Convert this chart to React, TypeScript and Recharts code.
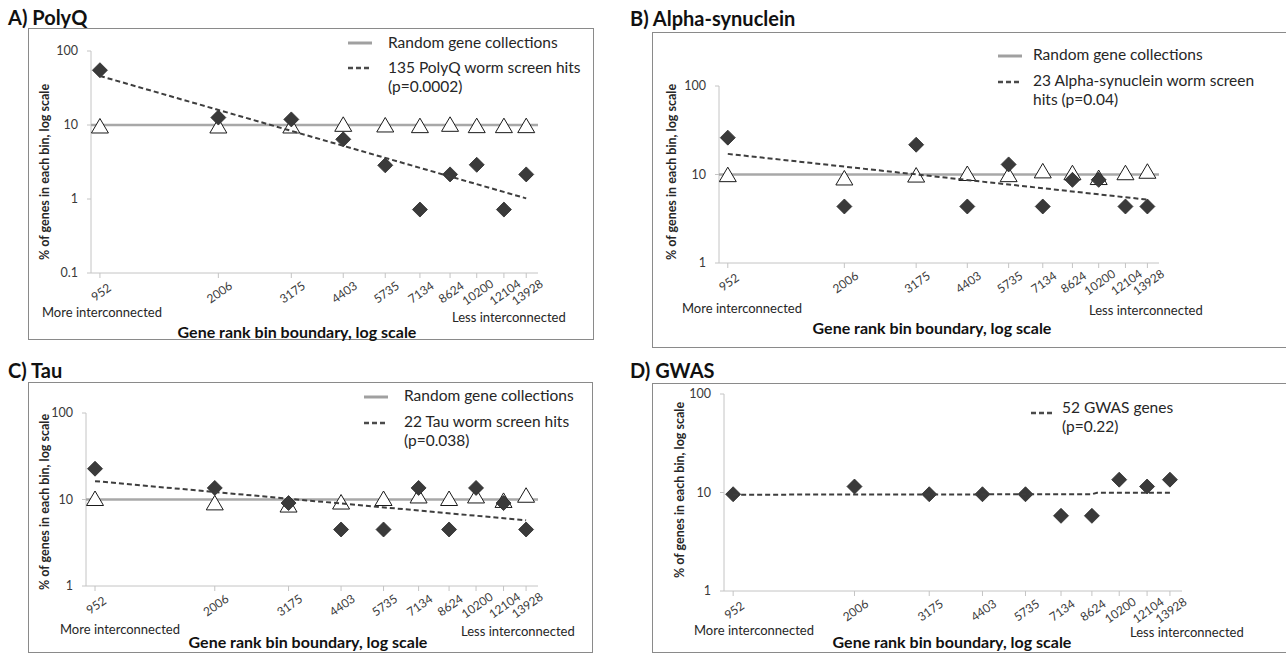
import React from 'react';
import { ScatterChart, Scatter, XAxis, YAxis } from 'recharts';

// gene rank bin boundaries (x axis, log scale)
const BINS = [952, 2006, 3175, 4403, 5735, 7134, 8624, 10200, 12104, 13928];
const X_DOMAIN = [900, 15000];
const RANDOM_LEVEL = 10;

// A) PolyQ
const POLYQ_HITS = [55, 12.6, 11.9, 6.4, 2.85, 0.72, 2.15, 2.9, 0.72, 2.15];
const POLYQ_RANDOM = [9.4, 9.4, 9.4, 9.9, 9.7, 9.5, 9.9, 9.5, 9.5, 9.5];
const POLYQ_TREND_X = [952, 13928];
const POLYQ_TREND_Y = [46, 1.02];
const POLYQ_TICKS = [0.1, 1, 10, 100];

// B) Alpha-synuclein
const ALPHA_HITS = [26.1, 4.35, 21.7, 4.35, 13.0, 4.35, 8.7, 8.7, 4.35, 4.35];
const ALPHA_RANDOM = [9.7, 8.9, 9.6, 10, 9.7, 10.7, 10.2, 9.0, 10.2, 10.6];
const ALPHA_TREND_X = [952, 13928];
const ALPHA_TREND_Y = [17.1, 5.2];

// C) Tau
const TAU_HITS = [22.7, 13.6, 9.1, 4.5, 4.5, 13.6, 4.5, 13.6, 9.1, 4.5];
const TAU_RANDOM = [10, 8.9, 8.4, 9.1, 10, 10.7, 10, 10.7, 9.5, 10.9];
const TAU_TREND_X = [952, 13928];
const TAU_TREND_Y = [16.3, 5.75];

// D) GWAS
const GWAS_HITS = [9.6, 11.5, 9.6, 9.6, 9.6, 5.8, 5.8, 13.5, 11.5, 13.5];
const GWAS_TREND_X = [952, 8624, 8900, 13928];
const GWAS_TREND_Y = [9.5, 9.6, 9.95, 9.95];

const SHORT_TICKS = [1, 10, 100];

const FONT = 'Lato, "Open Sans", sans-serif';
const YW = 40;
const XH = 40;

const pts = (xs: number[], ys: number[]) => xs.map((x, i) => ({ x, y: ys[i] }));

const Diamond = (p: any) => {
  const { cx, cy } = p;
  const r = 7.5;
  return (
    <polygon
      points={`${cx},${cy - r} ${cx + r},${cy} ${cx},${cy + r} ${cx - r},${cy}`}
      fill="#3a3a3a"
      stroke="#2a2a2a"
      strokeWidth={0.8}
    />
  );
};

const Triangle = (p: any) => {
  const { cx, cy } = p;
  return (
    <polygon
      points={`${cx},${cy - 8.5} ${cx + 8.5},${cy + 6} ${cx - 8.5},${cy + 6}`}
      fill="#ffffff"
      stroke="#1a1a1a"
      strokeWidth={1}
    />
  );
};

const Nothing = () => <g />;

// rotated bin label, centred under its tick
const XTick = (p: any) => {
  const { x, y, payload } = p;
  const cx = x + 1;
  const cy = y + 12;
  return (
    <text
      x={cx}
      y={cy}
      textAnchor="middle"
      dominantBaseline="central"
      transform={`rotate(-35, ${cx}, ${cy})`}
      fontSize={12}
      fill="#3a3a3a"
      fontFamily={FONT}
    >
      {payload.value}
    </text>
  );
};

function Txt({ x, y, size, bold, anchor, color, children }: any) {
  return (
    <div
      style={{
        position: 'absolute',
        left: x,
        top: y,
        transform: `translate(${anchor === 'middle' ? '-50%' : '0'}, -50%)`,
        fontSize: size,
        fontWeight: bold ? 700 : 400,
        color: color || '#262626',
        whiteSpace: 'nowrap',
        lineHeight: 1.15,
        fontFamily: FONT,
      }}
    >
      {children}
    </div>
  );
}

function LegendLine({ x, y, dashed }: any) {
  return (
    <svg style={{ position: 'absolute', left: x, top: y - 3 }} width={24} height={6}>
      <line
        x1={0}
        y1={3}
        x2={24}
        y2={3}
        stroke={dashed ? '#4a4a4a' : '#a0a0a0'}
        strokeWidth={dashed ? 2.5 : 3}
        strokeDasharray={dashed ? '5 3' : undefined}
      />
    </svg>
  );
}

function Panel({ cfg }: any) {
  const { title, titleX, titleY, box, plot, yTicks, hits, random, trendX, trendY, legend, yLabel, more, less, axisTitle } = cfg;
  const margin = {
    top: plot.top - box.y,
    left: plot.left - box.x - YW,
    right: box.x + box.w - plot.right,
    bottom: box.y + box.h - plot.bottom - XH,
  };
  const hitData = pts(BINS, hits);
  const trendData = pts(trendX, trendY);
  const randomData = random ? pts(BINS, random) : null;
  const randomLine = pts(X_DOMAIN, [RANDOM_LEVEL, RANDOM_LEVEL]);
  return (
    <>
      <Txt x={titleX} y={titleY} size={20} bold color="#111">{title}</Txt>
      <div
        style={{
          position: 'absolute',
          left: box.x,
          top: box.y,
          width: box.w,
          height: box.h,
          boxSizing: 'border-box',
          border: '1px solid #8a8a8a',
        }}
      />
      <div style={{ position: 'absolute', left: box.x, top: box.y }}>
        <ScatterChart width={box.w} height={box.h} margin={margin}>
          <XAxis
            type="number"
            dataKey="x"
            scale="log"
            domain={X_DOMAIN}
            ticks={BINS}
            interval={0}
            allowDataOverflow
            height={XH}
            tickSize={5}
            stroke="#c4c4c4"
            tick={<XTick />}
          />
          <YAxis
            type="number"
            dataKey="y"
            scale="log"
            domain={[yTicks[0], yTicks[yTicks.length - 1]]}
            ticks={yTicks}
            interval={0}
            allowDataOverflow
            width={YW}
            tickSize={4}
            tickMargin={9}
            stroke="#c4c4c4"
            tick={{ fontSize: 12.5, fill: '#3a3a3a', fontFamily: FONT }}
          />
          {random && (
            <Scatter
              data={randomLine}
              line={{ stroke: '#a8a8a8', strokeWidth: 2.5 }}
              shape={Nothing}
              isAnimationActive={false}
            />
          )}
          {randomData && <Scatter data={randomData} shape={Triangle} isAnimationActive={false} />}
          <Scatter data={hitData} shape={Diamond} isAnimationActive={false} />
          <Scatter
            data={trendData}
            line={{ stroke: '#3e3e3e', strokeWidth: 2, strokeDasharray: '5 3' }}
            shape={Nothing}
            isAnimationActive={false}
          />
        </ScatterChart>
      </div>
      {legend.map((l: any, i: number) => (
        <React.Fragment key={i}>
          {l.line && <LegendLine x={l.lx} y={l.ly} dashed={l.line === 'dashed'} />}
          <Txt x={l.tx} y={l.ty} size={15.5}>{l.text}</Txt>
        </React.Fragment>
      ))}
      <div
        style={{
          position: 'absolute',
          left: yLabel.x,
          top: yLabel.y,
          transform: 'translate(-50%, -50%) rotate(-90deg)',
          fontSize: 12.5,
          fontWeight: 700,
          whiteSpace: 'nowrap',
          fontFamily: FONT,
          color: '#262626',
        }}
      >
        % of genes in each bin, log scale
      </div>
      <Txt x={more.x} y={more.y} size={13}>More interconnected</Txt>
      <Txt x={less.x} y={less.y} size={13}>Less interconnected</Txt>
      <Txt x={axisTitle.x} y={axisTitle.y} size={16} bold anchor="middle" color="#111">
        Gene rank bin boundary, log scale
      </Txt>
    </>
  );
}

const PANELS = [
  {
    title: 'A) PolyQ',
    titleX: 8,
    titleY: 17,
    box: { x: 28, y: 28, w: 566, h: 312 },
    plot: { left: 91, right: 538, top: 51, bottom: 273 },
    yTicks: POLYQ_TICKS,
    hits: POLYQ_HITS,
    random: POLYQ_RANDOM,
    trendX: POLYQ_TREND_X,
    trendY: POLYQ_TREND_Y,
    legend: [
      { line: 'solid', lx: 348, ly: 43, tx: 388, ty: 43, text: 'Random gene collections' },
      { line: 'dashed', lx: 348, ly: 68, tx: 388, ty: 68, text: '135 PolyQ worm screen hits' },
      { tx: 388, ty: 87, text: '(p=0.0002)' },
    ],
    yLabel: { x: 44, y: 172 },
    more: { x: 42, y: 312 },
    less: { x: 452, y: 317 },
    axisTitle: { x: 297, y: 332 },
  },
  {
    title: 'B) Alpha-synuclein',
    titleX: 630,
    titleY: 18,
    box: { x: 652, y: 32, w: 640, h: 316 },
    plot: { left: 719, right: 1159, top: 86, bottom: 263 },
    yTicks: SHORT_TICKS,
    hits: ALPHA_HITS,
    random: ALPHA_RANDOM,
    trendX: ALPHA_TREND_X,
    trendY: ALPHA_TREND_Y,
    legend: [
      { line: 'solid', lx: 998, ly: 56, tx: 1033, ty: 55, text: 'Random gene collections' },
      { line: 'dashed', lx: 998, ly: 82, tx: 1033, ty: 81, text: '23 Alpha-synuclein worm screen' },
      { tx: 1033, ty: 100, text: 'hits (p=0.04)' },
    ],
    yLabel: { x: 671, y: 172 },
    more: { x: 682, y: 308 },
    less: { x: 1089, y: 310 },
    axisTitle: { x: 932, y: 328 },
  },
  {
    title: 'C) Tau',
    titleX: 8,
    titleY: 370,
    box: { x: 28, y: 382, w: 565, h: 271 },
    plot: { left: 86, right: 538, top: 413, bottom: 586 },
    yTicks: SHORT_TICKS,
    hits: TAU_HITS,
    random: TAU_RANDOM,
    trendX: TAU_TREND_X,
    trendY: TAU_TREND_Y,
    legend: [
      { line: 'solid', lx: 364, ly: 397, tx: 404, ty: 396, text: 'Random gene collections' },
      { line: 'dashed', lx: 364, ly: 423, tx: 404, ty: 422, text: '22 Tau worm screen hits' },
      { tx: 404, ty: 441, text: '(p=0.038)' },
    ],
    yLabel: { x: 44, y: 502 },
    more: { x: 60, y: 629 },
    less: { x: 461, y: 631 },
    axisTitle: { x: 308, y: 642 },
  },
  {
    title: 'D) GWAS',
    titleX: 630,
    titleY: 370,
    box: { x: 652, y: 383, w: 640, h: 270 },
    plot: { left: 724, right: 1182, top: 394, bottom: 591 },
    yTicks: SHORT_TICKS,
    hits: GWAS_HITS,
    random: null,
    trendX: GWAS_TREND_X,
    trendY: GWAS_TREND_Y,
    legend: [
      { line: 'dashed', lx: 1031, ly: 413, tx: 1062, ty: 408, text: '52 GWAS genes' },
      { tx: 1062, ty: 427, text: '(p=0.22)' },
    ],
    yLabel: { x: 679, y: 490 },
    more: { x: 694, y: 630 },
    less: { x: 1130, y: 632 },
    axisTitle: { x: 952, y: 642 },
  },
];

export default function App() {
  return (
    <div
      style={{
        position: 'absolute',
        left: 0,
        top: 0,
        width: 1286,
        height: 655,
        overflow: 'hidden',
        background: '#fff',
        fontFamily: FONT,
      }}
    >
      {PANELS.map((p, i) => (
        <Panel key={i} cfg={p} />
      ))}
    </div>
  );
}
